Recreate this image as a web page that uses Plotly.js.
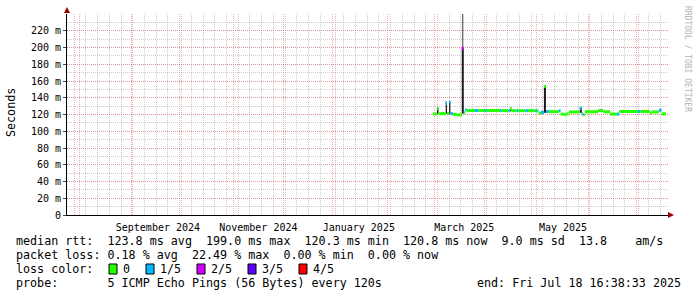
<!DOCTYPE html>
<html><head><meta charset="utf-8">
<script src="https://cdn.plot.ly/plotly-3.0.1.min.js"></script>
<style>html,body{margin:0;padding:0;background:#fff}</style>
</head><body><div id="chart" style="width:697px;height:297px"></div>
<script>
// ---------------- data ----------------
const rangeStart = '2024-07-24 16:38:33';
const rangeEnd   = '2025-07-18 16:38:33';

// median rtt, piecewise: each value holds from segTime[i] to segTime[i+1] (last to dataEnd)
const segTime = [
 '2025-02-28 04:00','2025-03-02 16:00','2025-03-03 14:00','2025-03-07 22:00','2025-03-08 17:00',
 '2025-03-09 22:00','2025-03-10 17:00','2025-03-12 06:00','2025-03-14 12:00','2025-03-17 12:00',
 '2025-03-18 17:00','2025-03-19 12:00','2025-03-20 12:00','2025-03-25 10:00','2025-03-27 10:00',
 '2025-03-31 10:00','2025-04-01 10:00','2025-04-09 10:00','2025-04-10 10:00','2025-04-14 07:00',
 '2025-04-15 07:00','2025-04-16 02:00','2025-04-19 08:00','2025-04-20 08:00','2025-04-24 12:00',
 '2025-04-26 00:00','2025-04-30 08:00','2025-05-01 08:00','2025-05-02 07:00','2025-05-03 19:00',
 '2025-05-05 14:00','2025-05-06 19:00','2025-05-08 12:00','2025-05-14 12:00','2025-05-15 12:00',
 '2025-05-17 12:00','2025-05-19 00:00','2025-05-20 10:00','2025-05-27 00:00','2025-05-28 05:00',
 '2025-05-29 00:00','2025-05-30 00:00','2025-06-07 02:00','2025-06-10 02:00','2025-06-14 02:00',
 '2025-06-18 02:00','2025-06-19 12:00','2025-06-30 19:00','2025-07-02 05:00','2025-07-08 00:00',
 '2025-07-09 00:00','2025-07-13 05:00','2025-07-14 19:00'];
const segMedian = [
 120.6,127.0,121.0,133.0,121.0,
 135.0,121.0,120.3,119.5,199.0,
 122.0,125.5,124.8,124.8,124.8,
 124.8,124.8,124.8,124.6,124.6,
 127.0,124.6,124.6,124.6,124.6,
 124.6,124.6,124.6,121.5,122.5,
 153.5,123.6,123.4,124.5,120.5,
 119.8,120.6,123.0,127.5,120.5,
 119.8,123.3,124.8,123.3,120.5,
 120.5,123.6,123.6,123.6,121.5,
 123.0,125.0,120.8];
// number of lost pings out of 5 for each segment
const segLoss = [
 0,0,0,1,0,
 1,1,0,0,2,
 0,1,0,1,0,
 1,0,1,0,1,
 0,0,1,0,1,
 0,1,0,0,1,
 0,1,0,1,0,
 0,0,0,1,1,
 0,0,0,0,0,
 1,0,1,0,0,
 0,1,0];
const dataEnd = '2025-07-17 12:00';

// smoke (spread of the individual pings)
const smokeStart = ['2025-03-02 16:00','2025-03-07 22:00','2025-03-09 22:00','2025-03-17 12:00','2025-04-15 07:00','2025-05-05 14:00','2025-05-27 00:00'];
const smokeEnd   = ['2025-03-03 14:00','2025-03-08 17:00','2025-03-10 17:00','2025-03-18 17:00','2025-04-16 02:00','2025-05-06 19:00','2025-05-28 05:00'];
const smokeLow   = [121.0,121.0,121.0,121.0,124.0,122.0,122.0];
const smokeHigh  = [128.5,135.5,136.0,199.0,128.5,155.0,128.5];
// highest single ping beyond the smoke
const outlierStart = ['2025-03-17 18:00'];
const outlierEnd   = ['2025-03-18 10:00'];
const outlierLow   = [199.0];
const outlierHigh  = [260.0];

const lossLabels = ['0','1/5','2/5','3/5','4/5'];
const lossColors = ['#26ff00','#00b8ff','#d400ff','#5e00ff','#ff0000'];

const yTickVals = [0,20,40,60,80,100,120,140,160,180,200,220];
const yTickText = ['0','20 m','40 m','60 m','80 m','100 m','120 m','140 m','160 m','180 m','200 m','220 m'];
const monthStarts = ['2024-08-01','2024-09-01','2024-10-01','2024-11-01','2024-12-01','2025-01-01',
                     '2025-02-01','2025-03-01','2025-04-01','2025-05-01','2025-06-01','2025-07-01'];
const monthLabelDates = ['2024-09-17','2024-11-16','2025-01-15','2025-03-19','2025-05-17'];
const monthLabels = ['September 2024','November 2024','January 2025','March 2025','May 2025'];

const statRow1 = 'median rtt:  123.8 ms avg  199.0 ms max  120.3 ms min  120.8 ms now  9.0 ms sd  13.8    am/s';
const statRow2 = 'packet loss: 0.18 % avg  22.49 % max  0.00 % min  0.00 % now';
const lossRowTitle = 'loss color:';
const probeRow = 'probe:       5 ICMP Echo Pings (56 Bytes) every 120s';
const endText = 'end: Fri Jul 18 16:38:33 2025';
const watermark = 'RRDTOOL / TOBI OETIKER';
const yTitle = 'Seconds';

// ---------------- layout helpers ----------------
const W = 697, H = 297;
const PL = 67, PR = 668, PT = 14, PB = 215;
const px = x => (x - PL) / (PR - PL);
const py = y => (PB - y) / (PB - PT);
function ms(s){ const t = s.length <= 10 ? s + 'T00:00:00Z' : s.replace(' ', 'T') + 'Z'; return Date.parse(t); }
const nb = s => s.replace(/ /g, '\u00a0');

const MONO = 'DejaVu Sans Mono';
const traces = [];

// smoke bars
traces.push({
  type:'bar', x: smokeStart.map((s,i)=> (ms(s)+ms(smokeEnd[i]))/2),
  width: smokeStart.map((s,i)=> ms(smokeEnd[i]) - ms(s)),
  base: smokeLow, y: smokeHigh.map((h,i)=> h - smokeLow[i]),
  marker:{color:'#1e1e1e', line:{width:0}}, hoverinfo:'skip', showlegend:false
});
traces.push({
  type:'bar', x: outlierStart.map((s,i)=> (ms(s)+ms(outlierEnd[i]))/2),
  width: outlierStart.map((s,i)=> ms(outlierEnd[i]) - ms(s)),
  base: outlierLow, y: outlierHigh.map((h,i)=> h - outlierLow[i]),
  marker:{color:'#505050', line:{width:0}}, hoverinfo:'skip', showlegend:false
});

// median line per loss colour
for (let c = 0; c < lossColors.length; c++) {
  const xs = [], ys = [];
  for (let i = 0; i < segTime.length; i++) {
    if (segLoss[i] !== c) continue;
    const t1 = ms(segTime[i]);
    const t2 = ms(i + 1 < segTime.length ? segTime[i+1] : dataEnd);
    xs.push(t1, t2, null); ys.push(segMedian[i], segMedian[i], null);
  }
  traces.push({type:'scatter', mode:'lines', x:xs, y:ys, connectgaps:false,
    line:{color:lossColors[c], width:3}, hoverinfo:'skip', showlegend:false});
}
// dummy trace for label axis
traces.push({type:'scatter', mode:'markers', x:[ms(rangeStart)], y:[null], xaxis:'x2', hoverinfo:'skip', showlegend:false});

// ---------------- annotations ----------------
const ann = [];
function txt(x, y, text, opts) {
  ann.push(Object.assign({xref:'paper', yref:'paper', x:px(x), y:py(y), text:nb(text), showarrow:false,
    xanchor:'left', yanchor:'middle', borderpad:0, borderwidth:0,
    font:{family:MONO, size:11.7, color:'#000'}}, opts||{}));
}
txt(16, 241, statRow1);
txt(16, 255, statRow2);
txt(16, 269, lossRowTitle);
const boxX = [109,146,197,248,299];
const shapes = [];
lossLabels.forEach((s,i)=>{
  txt(boxX[i]+14, 269, s);
  shapes.push({type:'rect', xref:'paper', yref:'paper', x0:px(boxX[i]), x1:px(boxX[i]+8), y0:py(274), y1:py(264),
    fillcolor:lossColors[i], line:{color:'#000', width:1}});
});
txt(16, 283, probeRow);
txt(681, 283, endText, {xanchor:'right'});
txt(11, 113, yTitle, {textangle:-90, xanchor:'center'});
txt(687, 59, watermark, {textangle:90, xanchor:'center', font:{family:MONO, size:8, color:'#b4b4b4'}});

// arrows
const AR = '#9b0000';
shapes.push({type:'path', xref:'paper', yref:'paper', fillcolor:AR, line:{color:AR, width:0},
  path:`M ${px(64)},${py(13)} L ${px(70)},${py(13)} L ${px(67)},${py(7)} Z`});
shapes.push({type:'path', xref:'paper', yref:'paper', fillcolor:AR, line:{color:AR, width:0},
  path:`M ${px(668)},${py(212)} L ${px(668)},${py(218)} L ${px(674)},${py(215)} Z`});

const RED = 'rgba(235,90,90,0.5)', GRAY = 'rgba(150,150,150,0.5)';
const layout = {
  width:W, height:H, margin:{l:PL, r:W-PR, t:PT, b:H-PB, pad:0},
  paper_bgcolor:'#fff', plot_bgcolor:'#fff', showlegend:false, barmode:'overlay',
  xaxis:{type:'date', range:[ms(rangeStart), ms(rangeEnd)], tickmode:'array', tickvals:monthStarts.map(ms),
    ticktext:monthStarts.map(()=>''), showticklabels:false, ticks:'', showgrid:true, gridcolor:RED, griddash:'1px,1px', gridwidth:1,
    zeroline:false, showline:true, linecolor:'#000', linewidth:1, layer:'above traces',
    minor:{tickmode:'linear', tick0:'2024-07-29', dtick:7*86400000, showgrid:true, gridcolor:GRAY, griddash:'1px,1px', gridwidth:1}},
  xaxis2:{type:'date', overlaying:'x', anchor:'y', side:'bottom', range:[ms(rangeStart), ms(rangeEnd)],
    tickmode:'array', tickvals:monthLabelDates.map(ms), ticktext:monthLabels, showgrid:false, zeroline:false,
    showline:false, ticks:'outside', ticklen:3, tickcolor:'rgba(0,0,0,0)', tickfont:{family:MONO, size:10, color:'#000'}},
  yaxis:{range:[0,240], tickmode:'array', tickvals:yTickVals, ticktext:yTickText, showgrid:true,
    gridcolor:RED, griddash:'1px,1px', gridwidth:1, zeroline:false,
    showline:true, linecolor:'#000', linewidth:1, ticks:'outside', ticklen:3, tickcolor:'#444',
    tickfont:{family:MONO, size:10, color:'#000'},
    minor:{tickmode:'linear', tick0:0, dtick:10, showgrid:true, gridcolor:GRAY, griddash:'1px,1px', gridwidth:1}},
  annotations:ann, shapes:shapes
};
Plotly.newPlot('chart', traces, layout, {staticPlot:true, displayModeBar:false});
</script></body></html>
